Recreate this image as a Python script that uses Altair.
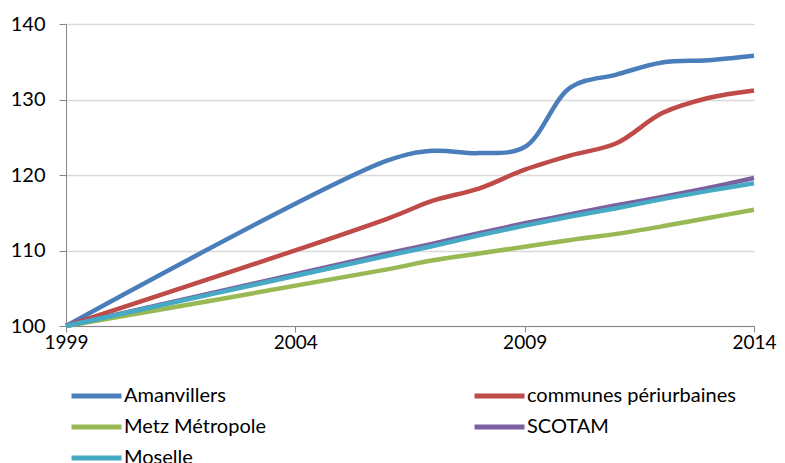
import altair as alt
import pandas as pd

years = [1999, 2006, 2007, 2008, 2009, 2010, 2011, 2012, 2013, 2014]
amanvillers = [100, 121.9, 123.2, 122.9, 123.7, 131.6, 133.3, 134.9, 135.2, 135.8]
periurbaines = [100, 114.2, 116.6, 118.2, 120.7, 122.6, 124.2, 128.2, 130.2, 131.2]
metz = [100, 107.5, 108.7, 109.6, 110.5, 111.4, 112.2, 113.2, 114.3, 115.4]
scotam = [100, 109.6, 110.9, 112.3, 113.6, 114.8, 116.0, 117.1, 118.3, 119.6]
moselle = [100, 109.3, 110.6, 112.0, 113.3, 114.5, 115.6, 116.8, 117.9, 118.9]

series_names = ["Amanvillers", "communes périurbaines", "Metz Métropole", "SCOTAM", "Moselle"]
series_values = [amanvillers, periurbaines, metz, scotam, moselle]
colors = ["#4A7EBB", "#BE4B48", "#98B954", "#7D60A0", "#46AAC5"]
legend_order = ["Amanvillers", "Metz Métropole", "Moselle", "communes périurbaines", "SCOTAM"]
x_ticks = [1999, 2004, 2009, 2014]
y_ticks = [100, 110, 120, 130, 140]

rows = []
for name, vals in zip(series_names, series_values):
    for yr, v in zip(years, vals):
        rows.append({"year": yr, "value": v, "serie": name})
df = pd.DataFrame(rows)

FONT = "Lato"

chart = alt.Chart(df).mark_line(
    strokeWidth=4.5, interpolate="catmull-rom"
).encode(
    x=alt.X("year:Q", scale=alt.Scale(domain=[1999, 2014], nice=False, zero=False),
            axis=alt.Axis(values=x_ticks, format="d", title=None, grid=False,
                          domainColor="#868686", tickColor="#868686", tickSize=6,
                          labelFontSize=19, labelFont=FONT, labelColor="#000000",
                          labelPadding=1, labelFlush=False)),
    y=alt.Y("value:Q", scale=alt.Scale(domain=[100, 140], nice=False, zero=False),
            axis=alt.Axis(values=y_ticks, title=None, grid=True, gridColor="#D9D9D9",
                          gridWidth=1.5, domainColor="#868686", tickColor="#868686",
                          tickSize=7, labelFontSize=20, labelFont=FONT,
                          labelColor="#000000", labelPadding=14)),
    color=alt.Color("serie:N", scale=alt.Scale(domain=series_names, range=colors),
                    sort=series_names,
                    legend=alt.Legend(title=None, orient="none", legendX=3, legendY=362,
                                      values=legend_order,
                                      columns=2, columnPadding=205, rowPadding=11,
                                      clipHeight=20, padding=0,
                                      symbolType="stroke", symbolSize=2500,
                                      symbolStrokeWidth=5, labelOffset=0,
                                      labelFontSize=20, labelFont=FONT,
                                      labelColor="#000000", labelLimit=400)),
).properties(
    width=688, height=302,
    autosize=alt.AutoSizeParams(type="none"),
    padding={"left": 58, "top": 16, "right": 23, "bottom": 137},
).configure_view(stroke=None)

chart.save("out.html", embed_options={"renderer": "svg", "actions": False})
